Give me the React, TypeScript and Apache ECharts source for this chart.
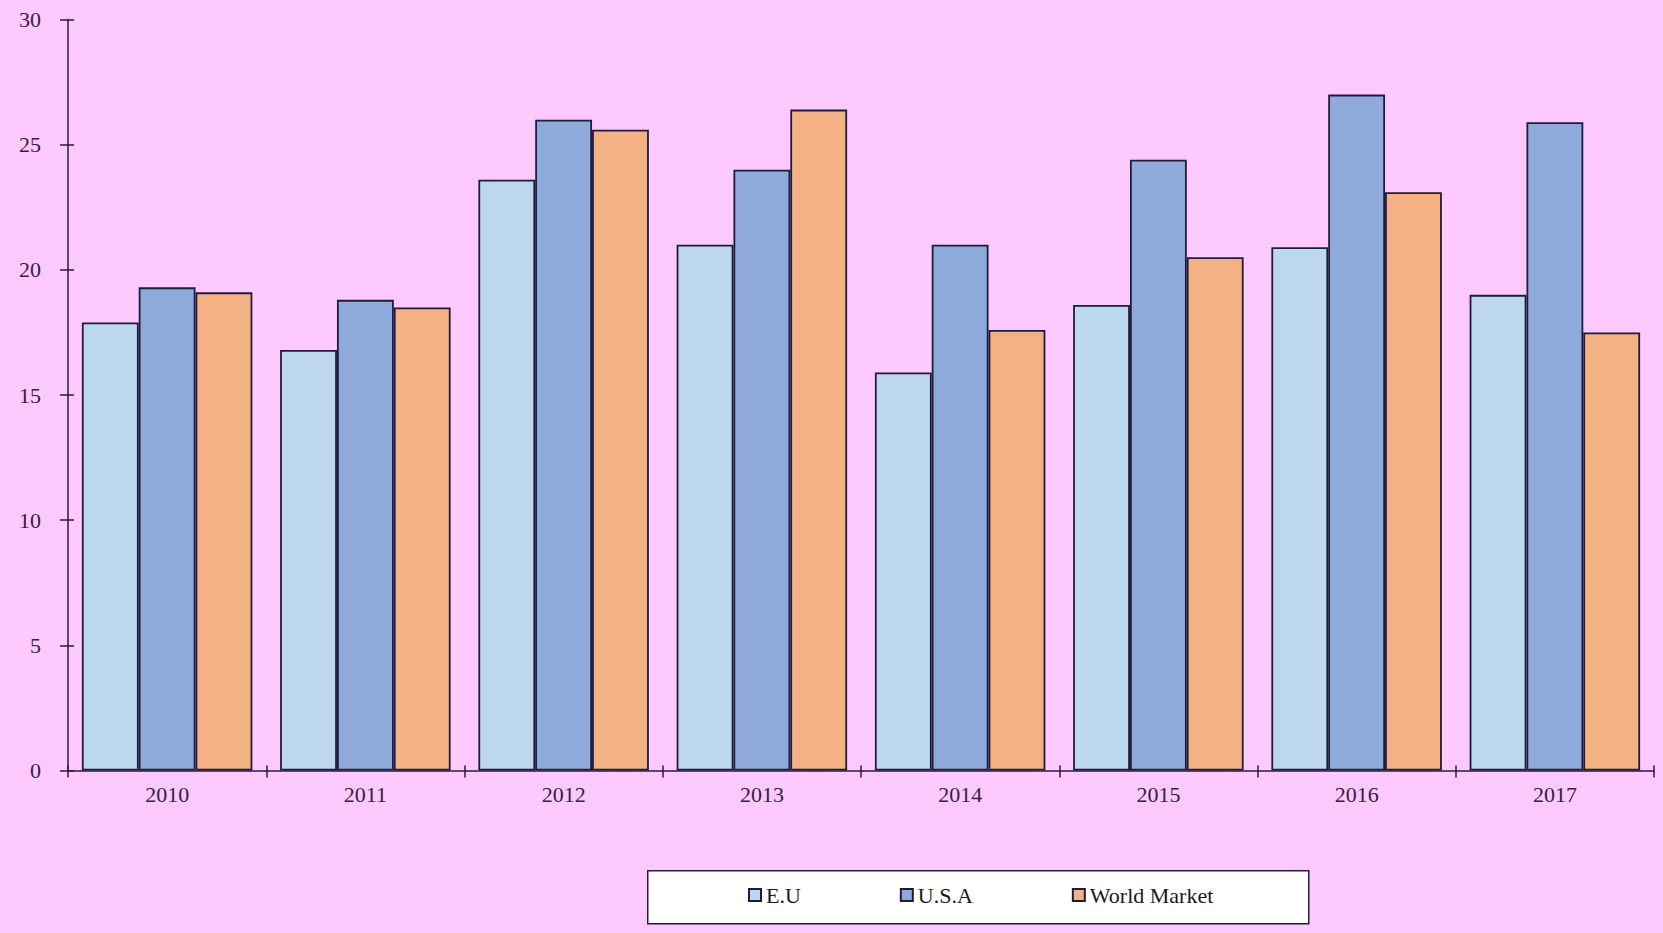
import React, { useEffect, useRef } from "react";
import * as echarts from "echarts";

const years = ["2010", "2011", "2012", "2013", "2014", "2015", "2016", "2017"];
const euValues = [17.9, 16.8, 23.6, 21.0, 15.9, 18.6, 20.9, 19.0];
const usaValues = [19.3, 18.8, 26.0, 24.0, 21.0, 24.4, 27.0, 25.9];
const worldValues = [19.1, 18.5, 25.6, 26.4, 17.6, 20.5, 23.1, 17.5];
const seriesNames = ["E.U", "U.S.A", "World Market"];
const seriesColors = ["#BDD7EE", "#8EAADB", "#F4B183"];

const FONT = "'Liberation Serif', 'Times New Roman', serif";
const AXIS_COLOR = "#2d1a3a";
const LABEL_COLOR = "#33223f";
const BORDER = "#1e1c3c";

export default function App() {
  const ref = useRef<HTMLDivElement>(null);

  useEffect(() => {
    if (!ref.current) return;
    const chart = echarts.init(ref.current, null, { renderer: "svg" });
    const valuesList = [euValues, usaValues, worldValues];
    chart.setOption({
      animation: false,
      backgroundColor: "#FEC9FE",
      grid: { left: 68, right: 9, top: 19.5, bottom: 162.5, containLabel: false },
      xAxis: [
        {
          type: "category",
          data: years,
          position: "bottom",
          axisLine: { show: true, lineStyle: { color: AXIS_COLOR, width: 1.5 } },
          axisTick: { show: true, length: 7, lineStyle: { color: AXIS_COLOR, width: 1.5 } },
          axisLabel: { color: LABEL_COLOR, fontFamily: FONT, fontSize: 22, margin: 13 },
          splitLine: { show: false },
        },
        {
          type: "category",
          data: years,
          position: "bottom",
          axisLine: { show: false },
          axisTick: { show: true, inside: true, length: 5, lineStyle: { color: AXIS_COLOR, width: 1.5 } },
          axisLabel: { show: false },
          splitLine: { show: false },
        },
      ],
      yAxis: [
        {
          type: "value",
          min: 0,
          max: 30,
          interval: 5,
          position: "left",
          axisLine: { show: true, lineStyle: { color: AXIS_COLOR, width: 1.5 } },
          axisTick: { show: true, length: 8, lineStyle: { color: AXIS_COLOR, width: 1.5 } },
          axisLabel: { color: LABEL_COLOR, fontFamily: FONT, fontSize: 22, margin: 27 },
          splitLine: { show: false },
        },
        {
          type: "value",
          min: 0,
          max: 30,
          interval: 5,
          position: "left",
          axisLine: { show: false },
          axisTick: { show: true, inside: true, length: 6, lineStyle: { color: AXIS_COLOR, width: 1.5 } },
          axisLabel: { show: false },
          splitLine: { show: false },
        },
      ],
      graphic: [
        {
          type: "rect",
          left: 647,
          top: 870,
          shape: { width: 661, height: 53 },
          style: { fill: "#ffffff", stroke: "#2a1a3a", lineWidth: 1.5 },
          z: 0,
        },
      ],
      legend: {
        left: 748,
        top: 884,
        padding: 0,
        itemGap: 99,
        itemWidth: 12,
        itemHeight: 12,
        icon: "rect",
        textStyle: { fontFamily: FONT, fontSize: 22, color: "#1a1a1a" },
        data: seriesNames,
        z: 10,
      },
      series: seriesNames.map((name, i) => ({
        name,
        type: "bar",
        data: valuesList[i],
        xAxisIndex: 0,
        yAxisIndex: 0,
        barGap: "0%",
        barCategoryGap: "14%",
        itemStyle: { color: seriesColors[i], borderColor: BORDER, borderWidth: 1.8 },
      })),
    });
    return () => chart.dispose();
  }, []);

  return (
    <div
      ref={ref}
      style={{ position: "fixed", left: 0, top: 0, width: "1663px", height: "933px" }}
    />
  );
}
